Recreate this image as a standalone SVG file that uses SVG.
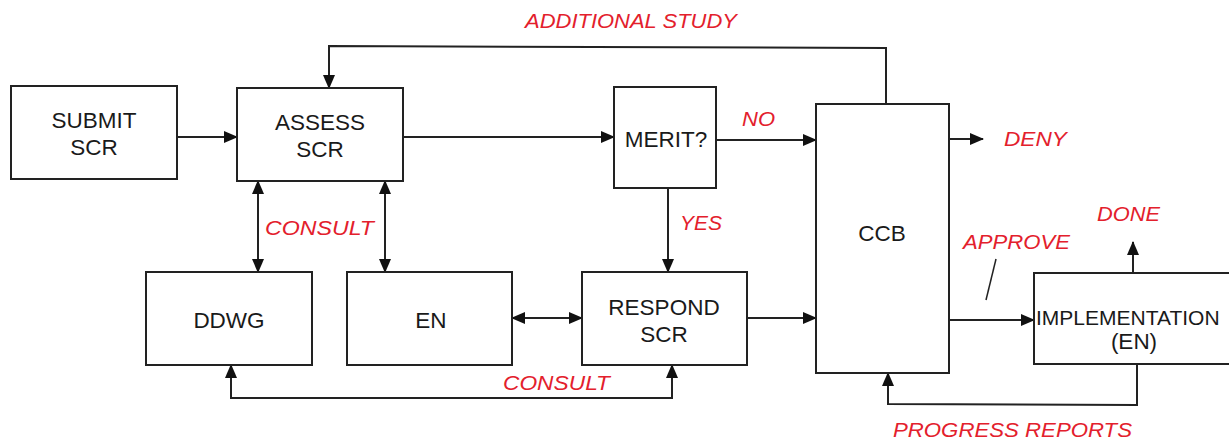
<svg xmlns="http://www.w3.org/2000/svg" width="1229" height="442" viewBox="0 0 1229 442">
<defs>
<style>
.box{fill:#fff;stroke:#222;stroke-width:2}
.lbl{font-family:"Liberation Sans",Arial,sans-serif;font-size:22.5px;fill:#1a1a1a;text-anchor:middle}
.red{font-family:"Liberation Sans",Arial,sans-serif;font-size:20.5px;font-style:italic;fill:#e3202c}
.ln{fill:none;stroke:#222;stroke-width:2}
</style>
<marker id="ah" markerUnits="userSpaceOnUse" markerWidth="14" markerHeight="12" refX="13" refY="6" orient="auto-start-reverse">
<path d="M0,0 L14,6 L0,12 Z" fill="#111"/>
</marker>
</defs>
<rect width="1229" height="442" fill="#fff"/>

<g id="connectors">
<line class="ln" x1="177" y1="137" x2="237" y2="137" marker-end="url(#ah)"/>
<line class="ln" x1="403" y1="137" x2="614" y2="137" marker-end="url(#ah)"/>
<line class="ln" x1="716" y1="140" x2="816" y2="140" marker-end="url(#ah)"/>
<line class="ln" x1="949" y1="139" x2="983" y2="139" marker-end="url(#ah)"/>
<polyline class="ln" points="886,104 886,48 329,46 329,88" marker-end="url(#ah)"/>
<line class="ln" x1="258" y1="181" x2="258" y2="272" marker-start="url(#ah)" marker-end="url(#ah)"/>
<line class="ln" x1="385" y1="181" x2="385" y2="272" marker-start="url(#ah)" marker-end="url(#ah)"/>
<line class="ln" x1="668" y1="188" x2="668" y2="272" marker-end="url(#ah)"/>
<line class="ln" x1="512" y1="318" x2="582" y2="318" marker-start="url(#ah)" marker-end="url(#ah)"/>
<line class="ln" x1="747" y1="318" x2="816" y2="318" marker-end="url(#ah)"/>
<line class="ln" x1="949" y1="320" x2="1034" y2="320" marker-end="url(#ah)"/>
<line class="ln" x1="1133" y1="273" x2="1133" y2="242" marker-end="url(#ah)"/>
<polyline class="ln" points="1137,364 1137,405 888,404 888,373" marker-end="url(#ah)"/>
<polyline class="ln" points="231,365 231,398 672,398 672,365" marker-start="url(#ah)" marker-end="url(#ah)"/>
<line x1="996" y1="259" x2="986" y2="300" stroke="#222" stroke-width="1.5"/>
</g>

<g id="submit">
<rect class="box" x="11" y="86" width="166" height="93"/>
<text class="lbl" x="94" y="128">SUBMIT</text>
<text class="lbl" x="94" y="155">SCR</text>
</g>
<g id="assess">
<rect class="box" x="237" y="88" width="166" height="93"/>
<text class="lbl" x="320" y="130">ASSESS</text>
<text class="lbl" x="320" y="157">SCR</text>
</g>
<g id="merit">
<rect class="box" x="614" y="87" width="102" height="101"/>
<text class="lbl" x="666" y="147">MERIT?</text>
</g>
<g id="ccb">
<rect class="box" x="816" y="104" width="133" height="269"/>
<text class="lbl" x="882" y="241">CCB</text>
</g>
<g id="ddwg">
<rect class="box" x="146" y="272" width="166" height="93"/>
<text class="lbl" x="229" y="328">DDWG</text>
</g>
<g id="en">
<rect class="box" x="347" y="272" width="165" height="93"/>
<text class="lbl" x="431" y="328">EN</text>
</g>
<g id="respond">
<rect class="box" x="582" y="272" width="165" height="93"/>
<text class="lbl" x="664" y="315">RESPOND</text>
<text class="lbl" x="664" y="342">SCR</text>
</g>
<g id="implementation">
<rect class="box" x="1034" y="273" width="205" height="91"/>
<text class="lbl" x="1036" y="325" style="text-anchor:start;font-size:21px">IMPLEMENTATION</text>
<text class="lbl" x="1134" y="349">(EN)</text>
</g>

<g id="labels">
<text class="red" x="525" y="28" textLength="212" lengthAdjust="spacingAndGlyphs">ADDITIONAL STUDY</text>
<text class="red" x="742" y="126" textLength="33" lengthAdjust="spacingAndGlyphs">NO</text>
<text class="red" x="1004" y="146" textLength="63" lengthAdjust="spacingAndGlyphs">DENY</text>
<text class="red" x="265" y="235" textLength="109" lengthAdjust="spacingAndGlyphs">CONSULT</text>
<text class="red" x="680" y="230" textLength="42" lengthAdjust="spacingAndGlyphs">YES</text>
<text class="red" x="963" y="249" textLength="107" lengthAdjust="spacingAndGlyphs">APPROVE</text>
<text class="red" x="1097" y="221" textLength="63" lengthAdjust="spacingAndGlyphs">DONE</text>
<text class="red" x="503" y="390" textLength="107" lengthAdjust="spacingAndGlyphs">CONSULT</text>
<text class="red" x="893" y="437" textLength="239" lengthAdjust="spacingAndGlyphs">PROGRESS REPORTS</text>
</g>
</svg>
